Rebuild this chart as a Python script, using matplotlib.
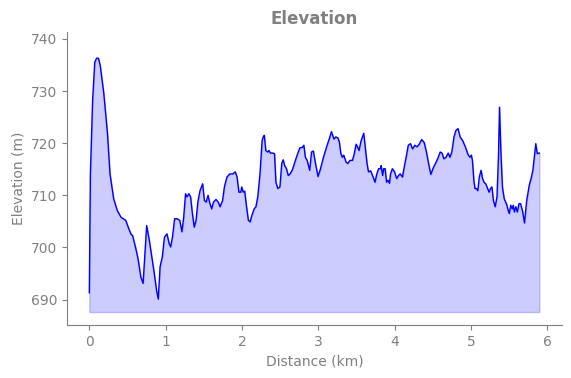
import matplotlib.pyplot as plt

# profil noktaları (mesafe km, yükseklik m)
distance_km = [
    0.0, 0.014, 0.043, 0.071, 0.095, 0.119, 0.143, 0.19, 0.238, 0.271, 0.319, 0.366,
    0.414, 0.476, 0.509, 0.547, 0.566, 0.604, 0.637, 0.675, 0.704, 0.728, 0.751, 0.785,
    0.818, 0.851, 0.88, 0.903, 0.927, 0.956, 0.984, 1.017, 1.046, 1.065, 1.089, 1.117,
    1.151, 1.184, 1.213, 1.236, 1.26, 1.279, 1.303, 1.326, 1.35, 1.374, 1.398, 1.421,
    1.45, 1.484, 1.507, 1.531, 1.555, 1.574, 1.602, 1.626, 1.659, 1.688, 1.712, 1.745,
    1.769, 1.802, 1.84, 1.878, 1.912, 1.935, 1.959, 1.983, 1.997, 2.016, 2.035, 2.059,
    2.083, 2.106, 2.13, 2.159, 2.182, 2.206, 2.235, 2.263, 2.277, 2.292, 2.311, 2.334,
    2.353, 2.372, 2.401, 2.425, 2.444, 2.468, 2.496, 2.52, 2.539, 2.558, 2.582, 2.605,
    2.629, 2.657, 2.686, 2.719, 2.757, 2.791, 2.81, 2.829, 2.853, 2.886, 2.91, 2.934,
    2.962, 2.995, 3.028, 3.066, 3.114, 3.142, 3.171, 3.204, 3.228, 3.256, 3.275, 3.294,
    3.313, 3.332, 3.361, 3.385, 3.413, 3.446, 3.47, 3.494, 3.513, 3.532, 3.56, 3.594,
    3.613, 3.637, 3.656, 3.684, 3.717, 3.741, 3.765, 3.789, 3.813, 3.822, 3.841, 3.855,
    3.874, 3.893, 3.912, 3.931, 3.945, 3.969, 3.997, 4.025, 4.049, 4.072, 4.101, 4.12,
    4.149, 4.177, 4.206, 4.234, 4.263, 4.291, 4.32, 4.353, 4.386, 4.415, 4.443, 4.472,
    4.5, 4.533, 4.562, 4.595, 4.619, 4.643, 4.671, 4.7, 4.723, 4.747, 4.776, 4.799,
    4.828, 4.856, 4.889, 4.927, 4.96, 4.984, 5.003, 5.017, 5.036, 5.05, 5.069, 5.088,
    5.107, 5.131, 5.15, 5.169, 5.192, 5.216, 5.235, 5.254, 5.273, 5.292, 5.315, 5.339,
    5.358, 5.372, 5.391, 5.41, 5.434, 5.462, 5.486, 5.5, 5.519, 5.538, 5.552, 5.567,
    5.586, 5.605, 5.628, 5.647, 5.676, 5.699, 5.728, 5.761, 5.785, 5.809, 5.833, 5.847,
    5.866, 5.894,
]
elevation_m = [
    691.3, 714.1, 728.2, 735.5, 736.3, 736.3, 734.9, 729.5, 721.8, 714.1, 709.3, 707.1,
    705.8, 705.2, 703.9, 702.5, 702.3, 700.1, 697.9, 694.3, 693.1, 698.8, 704.2, 701.4,
    698.2, 695.0, 691.8, 690.1, 696.3, 698.2, 702.0, 702.6, 700.7, 700.1, 702.0, 705.5,
    705.5, 705.2, 703.0, 705.8, 710.3, 709.7, 710.3, 709.7, 706.5, 703.9, 705.2, 708.7,
    710.9, 712.2, 709.0, 708.7, 710.0, 708.7, 707.4, 708.7, 709.2, 708.7, 707.8, 709.0,
    711.6, 713.5, 714.1, 714.1, 714.5, 713.5, 710.6, 710.6, 711.6, 710.6, 710.8, 707.8,
    705.2, 704.9, 706.2, 707.4, 707.8, 709.7, 714.1, 720.5, 721.2, 721.5, 718.6, 718.3,
    718.6, 718.1, 718.1, 718.0, 712.5, 711.3, 711.6, 716.1, 716.8, 715.7, 715.1, 713.8,
    714.1, 714.8, 716.1, 717.6, 719.1, 719.2, 719.6, 717.3, 716.7, 714.8, 718.3, 718.5,
    716.1, 713.6, 715.1, 717.3, 719.6, 720.8, 722.2, 720.8, 721.2, 721.0, 720.2, 718.0,
    717.3, 717.7, 716.4, 716.1, 716.7, 716.7, 718.0, 719.8, 719.3, 718.6, 720.5, 721.9,
    719.3, 716.1, 714.5, 714.7, 713.5, 712.5, 714.1, 715.1, 715.1, 715.7, 713.8, 715.1,
    715.1, 712.5, 712.9, 712.3, 714.1, 715.1, 714.5, 713.2, 713.8, 714.1, 713.5, 715.1,
    717.3, 719.6, 719.9, 718.9, 719.6, 719.3, 719.8, 720.7, 720.1, 718.3, 716.1, 714.0,
    715.1, 716.1, 717.0, 718.3, 718.1, 717.0, 717.3, 718.1, 717.3, 718.3, 721.2, 722.4,
    722.8, 721.2, 720.5, 719.2, 717.8, 717.3, 717.7, 716.7, 712.9, 711.3, 711.3, 710.9,
    713.5, 714.8, 713.2, 712.5, 712.2, 711.3, 710.6, 711.3, 711.6, 709.0, 707.8, 709.7,
    717.3, 726.9, 718.0, 711.6, 709.3, 708.4, 707.1, 706.5, 708.1, 707.4, 708.1, 706.8,
    707.8, 706.8, 708.4, 708.4, 706.8, 704.7, 709.0, 711.9, 713.2, 714.8, 718.0, 719.9,
    718.0, 718.1,
]

gray = "#808080"
fig, ax = plt.subplots(figsize=(5.71, 3.78), dpi=100)
fig.subplots_adjust(left=0.117, right=0.984, top=0.915, bottom=0.14)

lo = min(elevation_m)
hi = max(elevation_m)
ax.plot(distance_km, elevation_m, color="blue", linewidth=1)
ax.fill_between(distance_km, elevation_m, lo - 2.5, color="blue", alpha=0.2)

ax.set_ylim(lo - 5, hi + 5)
ax.set_title("Elevation", color=gray, fontsize=12, fontweight="bold")
ax.set_xlabel("Distance (km)", color=gray, fontsize=10)
ax.set_ylabel("Elevation (m)", color=gray, fontsize=10)

for side in ["top", "right"]:
    ax.spines[side].set_visible(False)
for side in ["left", "bottom"]:
    ax.spines[side].set_color(gray)
ax.tick_params(colors=gray, labelcolor=gray, labelsize=10)

plt.savefig("out.png", dpi=100)
